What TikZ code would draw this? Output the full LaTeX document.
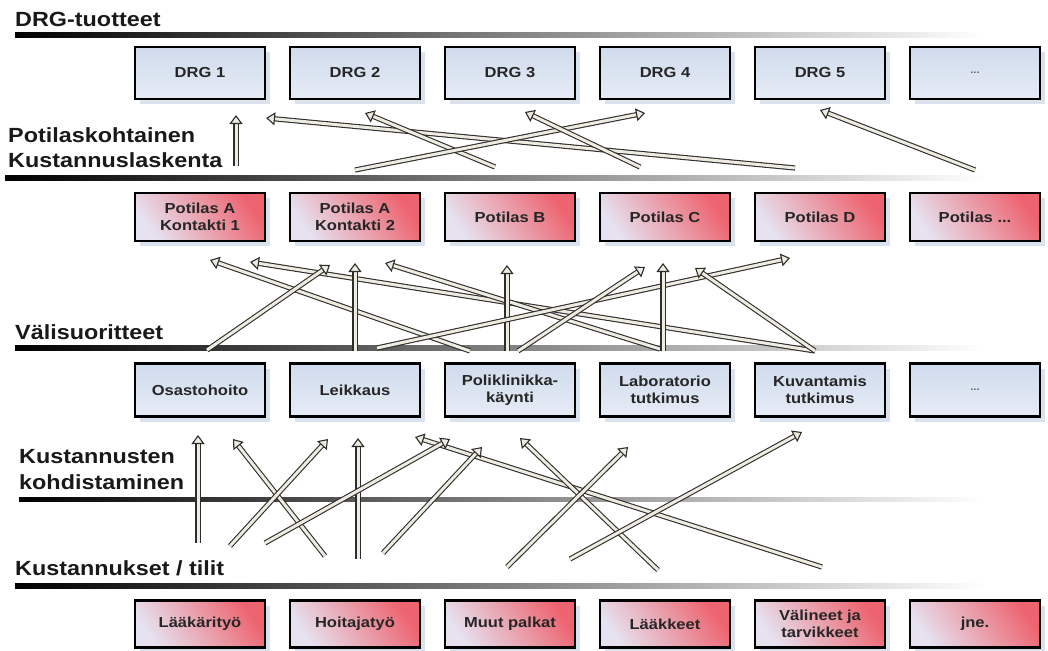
\documentclass[tikz,border=0pt]{standalone}
\usepackage{fontspec}
\setmainfont{Liberation Sans}[FakeStretch=1.14]
\usetikzlibrary{arrows.meta,shadows}

\definecolor{boxtop}{RGB}{208,219,236}
\definecolor{boxbot}{RGB}{230,236,246}
\definecolor{redlight}{RGB}{230,226,240}
\definecolor{redmid}{RGB}{240,150,162}
\definecolor{reddark}{RGB}{237,100,112}
\definecolor{shadowblue}{RGB}{218,226,238}
\definecolor{arrowfill}{RGB}{238,235,224}
\definecolor{arrowline}{RGB}{45,45,45}

\newcommand{\moredots}{{\fontsize{10}{12}\selectfont\color{black!60}...}}
\newcommand{\morepatients}{Potilas ...}

\tikzset{
    box/.style={draw=black, line width=2.5pt, minimum width=130pt, align=center,
        font=\fontsize{14.5}{17.5}\selectfont\bfseries, text=black!85,
        drop shadow={shadow xshift=5pt, shadow yshift=-5pt, fill=shadowblue, opacity=1}},
    bluebox/.style={box, top color=boxtop, bottom color=boxbot},
    redbox/.style={box, left color=redlight, middle color=redmid, right color=reddark, shading angle=125},
    title/.style={anchor=base west, inner sep=0pt, font=\fontsize{20.5}{25}\selectfont\bfseries, text=black!90},
    flow/.style={draw=arrowline, line width=1.1pt, double=arrowfill, double distance=3pt,
        -{Triangle[length=9pt, width=13pt, fill=arrowfill, line width=1.1pt]}},
    fadebar/.style={left color=black, middle color=black!55, right color=white}
}

\begin{document}
\begin{tikzpicture}[x=1pt,y=-1pt]
    \useasboundingbox (0,0) rectangle (1048,650);
    % gradient bars
    \shade[fadebar](15,33) rectangle(985,38);
    \shade[fadebar](5,175) rectangle(985,180);
    \shade[fadebar](15,345) rectangle(985,350);
    \shade[fadebar](19,497) rectangle(985,501);
    \shade[fadebar](15,583) rectangle(985,588);
    % section titles
    \node[title] (ttop) at (15,27) {DRG-tuotteet};
    \node[title] (tpot) at (8,142) {Potilaskohtainen};
    \node[title] (tpot2) at (8,167) {Kustannuslaskenta};
    \node[title] (tval) at (15,339) {Välisuoritteet};
    \node[title] (tkoh) at (19,463) {Kustannusten};
    \node[title] (tkoh2) at (19,489) {kohdistaminen};
    \node[title] (tkus) at (15,575) {Kustannukset / tilit};
    % box rows
    \foreach \t [count=\i] in {DRG 1,DRG 2,DRG 3,DRG 4,DRG 5,\moredots}
        \node[bluebox, minimum height=52pt] (drg\i) at ({45+155*\i},73) {\t};
    \foreach \t [count=\i] in {Potilas A\\Kontakti 1,Potilas A\\Kontakti 2,Potilas B,Potilas C,Potilas D,\morepatients}
        \node[redbox, minimum height=48pt] (pot\i) at ({45+155*\i},217) {\t};
    \foreach \t [count=\i] in {Osastohoito,Leikkaus,Poliklinikka-\\käynti,Laboratorio\\tutkimus,Kuvantamis\\tutkimus,\moredots}
        \node[bluebox, minimum height=53pt] (val\i) at ({45+155*\i},390) {\t};
    \foreach \t [count=\i] in {Lääkärityö,Hoitajatyö,Muut palkat,Lääkkeet,Välineet ja\\tarvikkeet,jne.}
        \node[redbox, minimum height=47pt] (kus\i) at ({45+155*\i},624) {\t};
    % allocation arrows
    \foreach \n/\xa/\ya/\xb/\yb in {
        a1/236/166/236/115, a2/795/168/266/118, a3/495/167/365/113,
        a4/355/170/645/113, a5/640/167/525/112, a6/975/170/820/110,
        b1/470/351/210/260, b2/815/351/250/262, b3/207/350/330/265,
        b4/355/351/355/263, b5/660/349/385/263, b6/507/351/507/265,
        b7/377/348/790/258, b8/518/351/645/267, b9/663/351/663/263,
        b10/815/351/695/268,
        c1/198/543/198/435, c2/325/556/233/439, c3/230/546/328/439,
        c4/358/559/358/438, c5/822/567/415/437, c6/265/543/450/439,
        c7/383/553/482/447, c8/658/570/520/438, c9/507/567/628/447,
        c10/570/559/802/432}{
        \coordinate (\n-t) at (\xa,\ya);
        \coordinate (\n-h) at (\xb,\yb);
        \draw[flow] (\n-t) -- (\n-h);
    }
\end{tikzpicture}
\end{document}
